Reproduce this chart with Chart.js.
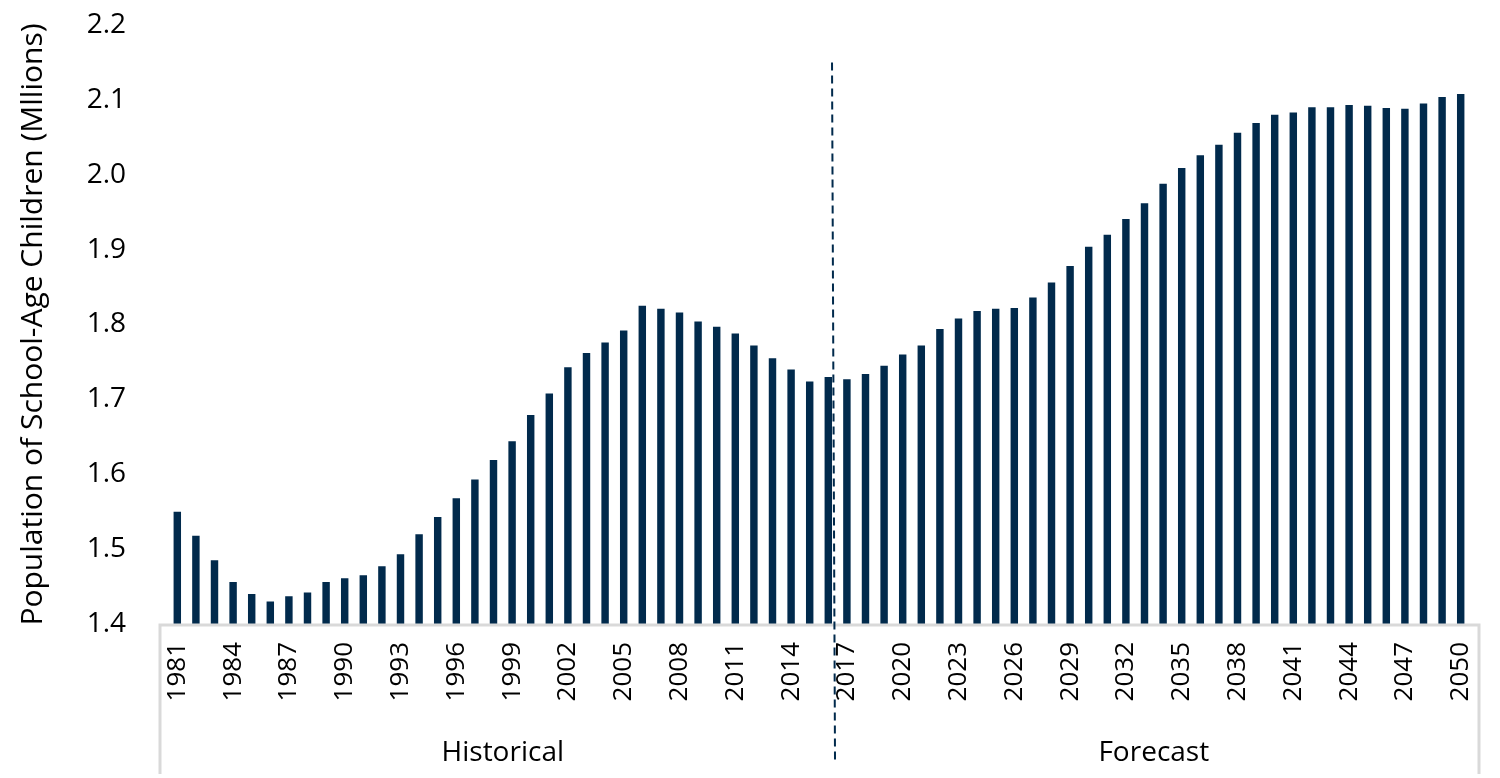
<!DOCTYPE html>
<html>
<head>
<meta charset="utf-8">
<title>Population of School-Age Children</title>
<script src="https://cdn.jsdelivr.net/npm/chart.js@4.4.0/dist/chart.umd.min.js"></script>
<style>
  html, body { margin: 0; padding: 0; background: #fff; }
</style>
</head>
<body>
<canvas id="grafico" width="1500" height="778"></canvas>
<script>
// Years on the category axis
const years = [
  1981, 1982, 1983, 1984, 1985, 1986, 1987, 1988, 1989, 1990,
  1991, 1992, 1993, 1994, 1995, 1996, 1997, 1998, 1999, 2000,
  2001, 2002, 2003, 2004, 2005, 2006, 2007, 2008, 2009, 2010,
  2011, 2012, 2013, 2014, 2015, 2016, 2017, 2018, 2019, 2020,
  2021, 2022, 2023, 2024, 2025, 2026, 2027, 2028, 2029, 2030,
  2031, 2032, 2033, 2034, 2035, 2036, 2037, 2038, 2039, 2040,
  2041, 2042, 2043, 2044, 2045, 2046, 2047, 2048, 2049, 2050
];

// School-age population, millions
const population = [
  1.550, 1.518, 1.485, 1.456, 1.440, 1.430, 1.437, 1.442, 1.456, 1.461,
  1.465, 1.477, 1.493, 1.520, 1.543, 1.568, 1.593, 1.619, 1.644, 1.679,
  1.708, 1.743, 1.762, 1.776, 1.792, 1.825, 1.821, 1.816, 1.804, 1.797,
  1.788, 1.772, 1.755, 1.740, 1.724, 1.730, 1.727, 1.734, 1.745, 1.760,
  1.772, 1.794, 1.808, 1.818, 1.821, 1.822, 1.836, 1.856, 1.878, 1.904,
  1.920, 1.941, 1.962, 1.988, 2.009, 2.026, 2.040, 2.056, 2.069, 2.080,
  2.083, 2.090, 2.090, 2.093, 2.092, 2.089, 2.088, 2.095, 2.104, 2.108
];

// Outer category groups and the year each one starts at
const groups = ["Historical", "Forecast"];
const groupStartYear = [1981, 2017];
const lastHistoricalYear = 2016;

const yTitle = "Population of School-Age Children (Mllions)";

const navy = "#012a4c";
const fontFamily = "'Open Sans', 'Noto Sans', sans-serif";

// Gray axis frame, dashed divider and group labels
const decorations = {
    id: "decorations",
    afterDraw(chart) {
        const { ctx, chartArea, scales: { x, y } } = chart;
        const w = x.getPixelForValue(1) - x.getPixelForValue(0);
        const left = chartArea.left - 8;
        const right = chartArea.right + 9;
        const bottom = chart.height - 4;

        ctx.save();
        ctx.strokeStyle = "#d9d9d9";
        ctx.lineWidth = 3;
        ctx.beginPath();
        ctx.moveTo(left, bottom);
        ctx.lineTo(left, chartArea.bottom + 1);
        ctx.lineTo(right, chartArea.bottom + 1);
        ctx.lineTo(right, bottom);
        ctx.stroke();

        // dashed divider between historical and forecast
        const xs = x.getPixelForValue(years.indexOf(lastHistoricalYear)) + 0.2 * w;
        ctx.strokeStyle = navy;
        ctx.lineWidth = 2;
        ctx.setLineDash([8, 5]);
        ctx.beginPath();
        ctx.moveTo(xs, y.getPixelForValue(2.15));
        ctx.lineTo(xs + 3, chartArea.bottom + 139);
        ctx.stroke();
        ctx.setLineDash([]);

        // group labels under the years
        ctx.fillStyle = "#000";
        ctx.font = "28px " + fontFamily;
        ctx.textAlign = "center";
        ctx.textBaseline = "middle";
        groups.forEach((g, i) => {
            const a = x.getPixelForValue(years.indexOf(groupStartYear[i])) - w / 2;
            const endIdx = i + 1 < groups.length ? years.indexOf(groupStartYear[i + 1]) - 1 : years.length - 1;
            const b = x.getPixelForValue(endIdx) + w / 2;
            ctx.fillText(g, (a + b) / 2, chartArea.bottom + 129);
        });
        ctx.restore();
    }
};

new Chart(document.getElementById("grafico"), {
    type: "bar",
    data: {
        labels: years.map(String),
        datasets: [{
            label: "Population",
            data: population,
            backgroundColor: navy,
            barPercentage: 0.4,
            categoryPercentage: 1
        }]
    },
    options: {
        responsive: false,
        animation: false,
        layout: { padding: { top: 25, right: 30, bottom: 0, left: 0 } },
        plugins: {
            legend: { display: false },
            tooltip: { enabled: false }
        },
        scales: {
            x: {
                offset: true,
                // hidden tick marks only used to push the labels down
                grid: { display: false, drawTicks: true, tickLength: 18 },
                border: { display: false },
                ticks: {
                    autoSkip: false,
                    minRotation: 90,
                    maxRotation: 90,
                    padding: 0,
                    color: "#000",
                    font: { family: fontFamily, size: 26 },
                    callback: (v, i) => (i % 3 === 0 ? years[i] : "")
                },
                afterFit: s => { s.height = 154; }
            },
            y: {
                min: 1.4,
                max: 2.2,
                grid: { display: false, drawTicks: true, tickLength: 42 },
                border: { display: false },
                ticks: {
                    stepSize: 0.1,
                    padding: 0,
                    color: "#000",
                    font: { family: fontFamily, size: 28 },
                    callback: v => v.toFixed(1)
                },
                title: {
                    display: true,
                    text: yTitle,
                    color: "#000",
                    font: { family: fontFamily, size: 30 },
                    padding: { top: 15, bottom: 0 }
                },
                afterFit: s => { s.width = 168; }
            }
        }
    },
    plugins: [decorations]
});
</script>
</body>
</html>
